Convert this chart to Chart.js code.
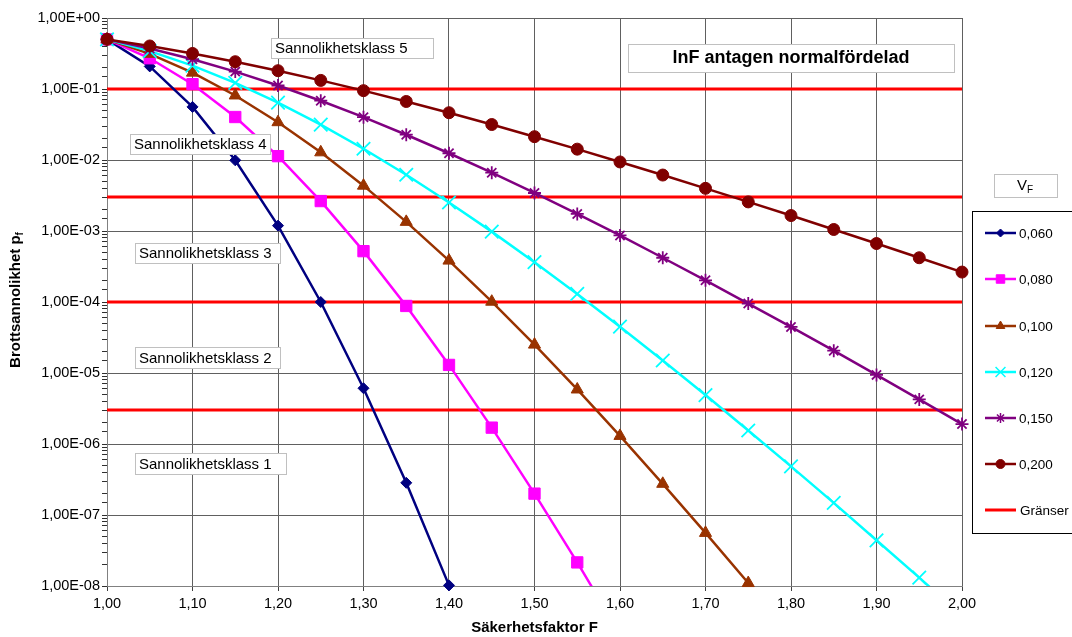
<!DOCTYPE html>
<html>
<head>
<meta charset="utf-8">
<script src="https://cdn.jsdelivr.net/npm/chart.js@4/dist/chart.umd.min.js"></script>
<style>
  html, body { margin: 0; padding: 0; background: #fff; }
  canvas { display: block; }
</style>
</head>
<body>
<canvas id="chart" width="1072" height="637"></canvas>
<script>
// Säkerhetsfaktor F
const factors = [1.00, 1.05, 1.10, 1.15, 1.20, 1.25, 1.30, 1.35, 1.40, 1.45, 1.50,
  1.55, 1.60, 1.65, 1.70, 1.75, 1.80, 1.85, 1.90, 1.95, 2.00];

const seriesLabels = ['0,060', '0,080', '0,100', '0,120', '0,150', '0,200'];

// Brottsannolikhet pf, one list per V_F
const pf060 = [0.5, 0.208, 0.056, 0.0099, 1.19e-3, 1.0e-4, 6.1e-6, 2.84e-7, 1.02e-8,
  null, null, null, null, null, null, null, null, null, null, null, null];
const pf080 = [0.5, 0.271, 0.117, 0.0403, 0.01133, 2.64e-3, 5.2e-4, 8.8e-5, 1.30e-5, 1.70e-6,
  2.0e-7, 2.15e-8, 2.1e-9, null, null, null, null, null, null, null, null];
const pf100 = [0.5, 0.313, 0.170, 0.0811, 0.0341, 0.01283, 4.35e-3, 1.345e-3, 3.83e-4, 1.01e-4,
  2.51e-5, 5.86e-6, 1.30e-6, 2.75e-7, 5.6e-8, 1.10e-8, null, null, null, null, null];
const pf120 = [0.5, 0.342, 0.2136, 0.122, 0.0643, 0.0315, 0.0144, 6.2e-3, 2.52e-3, 9.8e-4,
  3.64e-4, 1.30e-4, 4.49e-5, 1.50e-5, 4.89e-6, 1.55e-6, 4.84e-7, 1.48e-7, 4.4e-8, 1.31e-8, 3.8e-9];
const pf150 = [0.5, 0.3725, 0.2626, 0.1757, 0.1121, 0.0684, 0.0401, 0.0227, 0.01245, 6.62e-3,
  3.43e-3, 1.74e-3, 8.65e-4, 4.2e-4, 2.02e-4, 9.5e-5, 4.45e-5, 2.06e-5, 9.4e-6, 4.25e-6, 1.91e-6];
const pf200 = [0.5, 0.4036, 0.3168, 0.2423, 0.181, 0.1322, 0.0948, 0.0667, 0.0463, 0.0316,
  0.0213, 0.01422, 9.39e-3, 6.14e-3, 3.99e-3, 2.57e-3, 1.65e-3, 1.05e-3, 6.66e-4, 4.2e-4, 2.64e-4];

// Gränser between the probability classes
const limitLevels = [1e-1, 3e-3, 1e-4, 3e-6];
const limitLabel = 'Gränser';

const classLabels = ['Sannolikhetsklass 5', 'Sannolikhetsklass 4', 'Sannolikhetsklass 3',
  'Sannolikhetsklass 2', 'Sannolikhetsklass 1'];
const titleText = 'lnF antagen normalfördelad';

const FONT = '"Liberation Sans", Arial, sans-serif';

const seriesStyles = [
  { color: '#000080', pointStyle: 'rectRot', radius: 5.5, legendRadius: 4, fill: true, clipBottom: 10 },
  { color: '#FF00FF', pointStyle: 'rect', radius: 8, legendRadius: 6, fill: true, clipBottom: 0 },
  { color: '#993300', pointStyle: 'triangle', radius: 7, legendRadius: 5, fill: true, clipBottom: 10 },
  { color: '#00FFFF', pointStyle: 'crossRot', radius: 9.5, legendRadius: 7, fill: false, clipBottom: 0 },
  { color: '#800080', pointStyle: 'star', radius: 6.5, legendRadius: 5, fill: false, clipBottom: 0 },
  { color: '#800000', pointStyle: 'circle', radius: 6, legendRadius: 4.5, fill: true, clipBottom: 0 },
];
const seriesValues = [pf060, pf080, pf100, pf120, pf150, pf200];

function isDecade(v) {
  const l = Math.log10(v);
  return Math.abs(l - Math.round(l)) < 1e-6;
}

function sciLabel(v) {
  const e = Math.round(Math.log10(v));
  const sign = e < 0 ? '-' : '+';
  return '1,00E' + sign + String(Math.abs(e)).padStart(2, '0');
}

const datasets = seriesValues.map((vals, i) => {
  const st = seriesStyles[i];
  return {
    label: seriesLabels[i],
    data: factors.map((f, k) => ({ x: f, y: vals[k] })),
    borderColor: st.color,
    backgroundColor: st.color,
    pointBackgroundColor: st.fill ? st.color : 'rgba(0,0,0,0)',
    pointBorderColor: st.color,
    pointBorderWidth: st.fill ? 1 : 1.8,
    pointStyle: st.pointStyle,
    pointRadius: st.radius,
    borderWidth: 2.5,
    tension: 0,
    spanGaps: false,
    clip: { left: 12, top: 12, right: 12, bottom: st.clipBottom },
    order: 10 - i,
  };
});

limitLevels.forEach((lvl) => {
  datasets.push({
    label: limitLabel,
    data: [{ x: factors[0], y: lvl }, { x: factors[factors.length - 1], y: lvl }],
    borderColor: '#FF0000',
    backgroundColor: '#FF0000',
    borderWidth: 3,
    pointRadius: 0,
    clip: 0,
    order: 20,
  });
});

function drawBox(ctx, x, y, w, h) {
  ctx.fillStyle = '#ffffff';
  ctx.fillRect(x, y, w, h);
  ctx.strokeStyle = '#c0c0c0';
  ctx.lineWidth = 1;
  ctx.strokeRect(x + 0.5, y + 0.5, w, h);
}

const decorPlugin = {
  id: 'decor',
  afterDraw(chart) {
    const ctx = chart.ctx;
    ctx.save();

    // class boxes
    const boxes = [
      { x: 271, y: 38, w: 162, h: 20 },
      { x: 130, y: 134, w: 140, h: 20 },
      { x: 135, y: 243, w: 145, h: 20 },
      { x: 135, y: 347, w: 145, h: 21 },
      { x: 135, y: 453, w: 151, h: 21 },
    ];
    boxes.forEach((b, i) => {
      drawBox(ctx, b.x, b.y, b.w, b.h);
      ctx.fillStyle = '#000';
      ctx.font = '15px ' + FONT;
      ctx.textAlign = 'left';
      ctx.textBaseline = 'middle';
      ctx.fillText(classLabels[i], b.x + 4, b.y + b.h / 2 + 1);
    });

    // title box
    drawBox(ctx, 628, 44, 326, 28);
    ctx.fillStyle = '#000';
    ctx.font = 'bold 18px ' + FONT;
    ctx.textAlign = 'center';
    ctx.textBaseline = 'middle';
    ctx.fillText(titleText, 791, 58.5);

    // y axis title with subscript
    ctx.save();
    ctx.translate(16, 300);
    ctx.rotate(-Math.PI / 2);
    ctx.font = 'bold 15px ' + FONT;
    const main = 'Brottsannolikhet p';
    const wMain = ctx.measureText(main).width;
    ctx.font = 'bold 10px ' + FONT;
    const wSub = ctx.measureText('f').width;
    const start = -(wMain + wSub) / 2;
    ctx.textAlign = 'left';
    ctx.textBaseline = 'middle';
    ctx.font = 'bold 15px ' + FONT;
    ctx.fillText(main, start, 0);
    ctx.font = 'bold 10px ' + FONT;
    ctx.fillText('f', start + wMain, 4);
    ctx.restore();

    // V_F box
    drawBox(ctx, 994, 174, 63, 23);
    ctx.fillStyle = '#000';
    ctx.textAlign = 'left';
    ctx.textBaseline = 'middle';
    ctx.font = '15px ' + FONT;
    ctx.fillText('V', 1017, 185.5);
    ctx.font = '10px ' + FONT;
    ctx.fillText('F', 1027, 190);

    // legend
    ctx.strokeStyle = '#000';
    ctx.lineWidth = 1;
    ctx.strokeRect(972.5, 211.5, 120, 322);
    const rows = [233, 279, 326, 372, 418, 464, 510];
    seriesStyles.forEach((st, i) => {
      const y = rows[i];
      ctx.strokeStyle = st.color;
      ctx.lineWidth = 2.5;
      ctx.beginPath();
      ctx.moveTo(985, y);
      ctx.lineTo(1016, y);
      ctx.stroke();
      ctx.fillStyle = st.color;
      ctx.lineWidth = st.fill ? 1 : 1.5;
      Chart.helpers.drawPoint(ctx, {
        pointStyle: st.pointStyle,
        radius: st.legendRadius,
        rotation: 0,
        borderWidth: st.fill ? 1 : 1.5,
      }, 1000.5, y);
      ctx.fillStyle = '#000';
      ctx.font = '13.5px ' + FONT;
      ctx.textAlign = 'left';
      ctx.textBaseline = 'middle';
      ctx.fillText(seriesLabels[i], 1019, y + 1);
    });
    const ly = rows[6];
    ctx.strokeStyle = '#FF0000';
    ctx.lineWidth = 3;
    ctx.beginPath();
    ctx.moveTo(985, ly);
    ctx.lineTo(1016, ly);
    ctx.stroke();
    ctx.fillStyle = '#000';
    ctx.font = '13.5px ' + FONT;
    ctx.fillText(limitLabel, 1020, ly + 1);

    ctx.restore();
  },
};

new Chart(document.getElementById('chart'), {
  type: 'line',
  data: { datasets },
  plugins: [decorPlugin],
  options: {
    responsive: false,
    animation: false,
    events: [],
    layout: { padding: { left: 0, right: 110, top: 18, bottom: 0 } },
    plugins: {
      legend: { display: false },
      tooltip: { enabled: false },
    },
    scales: {
      x: {
        type: 'linear',
        min: 1,
        max: 2,
        afterFit: (scale) => { scale.height = 51; },
        border: { color: '#808080', width: 1 },
        grid: { color: '#606060', lineWidth: 1, tickLength: 5, tickColor: '#404040' },
        ticks: {
          stepSize: 0.1,
          color: '#000',
          padding: 4,
          font: { family: FONT, size: 14.5 },
          callback: (v) => v.toFixed(2).replace('.', ','),
          maxRotation: 0,
          autoSkip: false,
        },
        title: {
          display: true,
          text: 'Säkerhetsfaktor F',
          color: '#000',
          font: { family: FONT, size: 15, weight: 'bold' },
          padding: { top: 8, bottom: 0 },
        },
      },
      y: {
        type: 'logarithmic',
        min: 1e-8,
        max: 1,
        afterFit: (scale) => { scale.width = 107; },
        border: { color: '#808080', width: 1 },
        grid: {
          color: (c) => (c.tick && isDecade(c.tick.value) ? '#606060' : 'rgba(0,0,0,0)'),
          tickColor: '#303030',
          tickLength: 5,
          lineWidth: 1,
        },
        ticks: {
          color: '#000',
          padding: 2,
          autoSkip: false,
          font: { family: FONT, size: 14.5 },
          callback: (v) => (isDecade(v) ? sciLabel(v) : ''),
        },
      },
    },
  },
});
</script>
</body>
</html>
